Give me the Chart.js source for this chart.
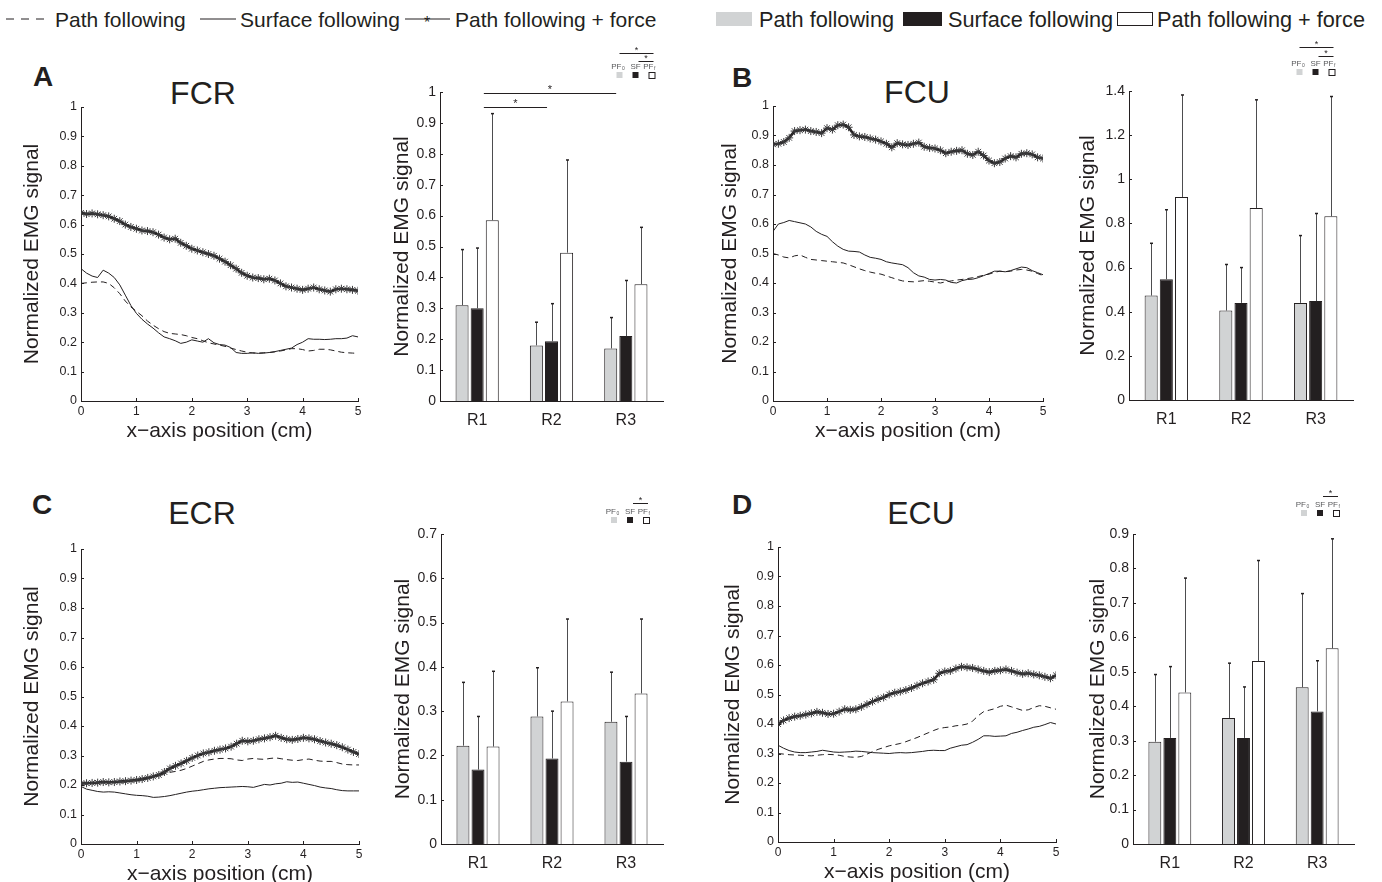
<!DOCTYPE html>
<html>
<head>
<meta charset="utf-8">
<script src="https://cdn.jsdelivr.net/npm/chart.js@4.4.1/dist/chart.umd.min.js"></script>
<style>
  body { margin: 0; background: #fff; }
  #fig { position: relative; width: 1382px; height: 882px; overflow: hidden;
         font-family: 'Liberation Sans', Arial, Helvetica, sans-serif; color: #231f20; }
  .box { position: absolute; }
  .txt { position: absolute; white-space: nowrap; line-height: 1; }
  .title { font-size: 32px; transform: translateX(-50%); }
  .letter { font-size: 28px; font-weight: bold; }
  .leg { font-size: 21px; }
  .legR { font-size: 21.7px; }
  svg { position: absolute; left: 0; top: 0; }
</style>
</head>
<body>
<div id="fig">
  <svg width="1382" height="40">
    <line x1="6" y1="19" x2="48" y2="19" stroke="#231f20" stroke-width="1" stroke-dasharray="8,7"/>
    <line x1="200" y1="19" x2="236" y2="19" stroke="#231f20" stroke-width="1"/>
    <line x1="405" y1="19" x2="450" y2="19" stroke="#231f20" stroke-width="1.2"/>
    <text x="427" y="28" font-size="16" text-anchor="middle" fill="#231f20" font-family="Liberation Sans, Arial">*</text>
    <rect x="716" y="12" width="36" height="14" fill="#d1d3d4"/>
    <rect x="903" y="12" width="39" height="14" fill="#231f20"/>
    <rect x="1117.5" y="12.5" width="35" height="13" fill="#fff" stroke="#231f20" stroke-width="1"/>
  </svg>
  <div class="txt leg" style="left:55px;top:9px">Path following</div>
  <div class="txt leg" style="left:240px;top:9px">Surface following</div>
  <div class="txt leg" style="left:455px;top:9px">Path following + force</div>
  <div class="txt legR" style="left:759px;top:9px">Path following</div>
  <div class="txt legR" style="left:948px;top:9px">Surface following</div>
  <div class="txt legR" style="left:1157px;top:9px">Path following + force</div>

  <div class="txt letter" style="left:33px;top:63px">A</div>
  <div class="txt letter" style="left:732px;top:64px">B</div>
  <div class="txt letter" style="left:32px;top:491px">C</div>
  <div class="txt letter" style="left:732px;top:491px">D</div>
  <div class="txt title" style="left:203px;top:77px">FCR</div>
  <div class="txt title" style="left:917px;top:76px">FCU</div>
  <div class="txt title" style="left:202px;top:497px">ECR</div>
  <div class="txt title" style="left:921px;top:497px">ECU</div>
</div>
<script>
// x positions along the surface (cm)
const xPos = [0,0.1,0.2,0.3,0.4,0.5,0.6,0.7,0.8,0.9,1,1.1,1.2,1.3,1.4,1.5,1.6,1.7,1.8,1.9,2,
  2.1,2.2,2.3,2.4,2.5,2.6,2.7,2.8,2.9,3,3.1,3.2,3.3,3.4,3.5,3.6,3.7,3.8,3.9,4,
  4.1,4.2,4.3,4.4,4.5,4.6,4.7,4.8,4.9,5];

// FCR
const fcrForce = [0.640,0.636,0.638,0.635,0.632,0.628,0.620,0.612,0.600,0.592,0.586,0.580,0.578,0.574,0.566,0.556,0.550,0.552,0.538,0.528,0.518,
  0.512,0.506,0.500,0.494,0.484,0.474,0.462,0.450,0.436,0.426,0.420,0.418,0.414,0.416,0.410,0.400,0.390,0.386,0.382,0.378,
  0.382,0.386,0.380,0.376,0.372,0.380,0.382,0.380,0.378,0.375];
const fcrSurface = [0.450,0.435,0.425,0.420,0.445,0.435,0.420,0.395,0.360,0.325,0.298,0.278,0.262,0.248,0.232,0.218,0.212,0.205,0.196,0.200,0.208,
  0.204,0.200,0.212,0.198,0.192,0.190,0.182,0.165,0.162,0.162,0.164,0.162,0.163,0.165,0.168,0.172,0.176,0.180,0.192,0.200,
  0.212,0.210,0.210,0.209,0.210,0.212,0.212,0.214,0.222,0.218];
const fcrPath = [0.400,0.402,0.404,0.405,0.405,0.400,0.385,0.365,0.340,0.320,0.305,0.290,0.272,0.258,0.246,0.236,0.230,0.228,0.226,0.222,0.216,
  0.212,0.205,0.198,0.194,0.190,0.186,0.180,0.175,0.170,0.166,0.163,0.163,0.164,0.165,0.167,0.170,0.174,0.178,0.178,0.175,
  0.170,0.172,0.176,0.176,0.174,0.170,0.166,0.164,0.163,0.162];

// FCU
const fcuForce = [0.870,0.872,0.878,0.892,0.915,0.918,0.920,0.915,0.912,0.908,0.925,0.920,0.935,0.937,0.928,0.902,0.897,0.895,0.890,0.886,0.880,
  0.872,0.860,0.874,0.870,0.868,0.872,0.876,0.862,0.858,0.856,0.850,0.840,0.845,0.848,0.850,0.838,0.834,0.845,0.832,0.815,
  0.806,0.810,0.822,0.830,0.826,0.838,0.840,0.836,0.826,0.822];
const fcuSurface = [0.575,0.600,0.605,0.612,0.608,0.604,0.600,0.590,0.575,0.565,0.558,0.540,0.525,0.514,0.508,0.507,0.505,0.495,0.487,0.484,0.480,
  0.472,0.468,0.465,0.462,0.452,0.435,0.424,0.420,0.412,0.410,0.412,0.410,0.402,0.400,0.408,0.412,0.413,0.418,0.425,0.432,
  0.440,0.440,0.438,0.442,0.448,0.454,0.452,0.442,0.435,0.428];
const fcuPath = [0.500,0.495,0.488,0.485,0.492,0.495,0.487,0.480,0.478,0.476,0.474,0.472,0.470,0.468,0.462,0.455,0.448,0.442,0.437,0.433,0.430,
  0.424,0.418,0.412,0.407,0.405,0.404,0.406,0.408,0.406,0.403,0.400,0.404,0.407,0.410,0.412,0.415,0.418,0.422,0.426,0.430,
  0.436,0.440,0.438,0.440,0.444,0.446,0.444,0.440,0.432,0.425];

// ECR
const ecrForce = [0.205,0.206,0.207,0.208,0.210,0.209,0.210,0.212,0.213,0.215,0.217,0.220,0.224,0.229,0.234,0.244,0.256,0.265,0.273,0.282,0.292,
  0.300,0.307,0.311,0.316,0.320,0.324,0.330,0.340,0.350,0.348,0.350,0.355,0.358,0.362,0.367,0.360,0.355,0.353,0.356,0.360,
  0.358,0.355,0.349,0.344,0.340,0.335,0.328,0.320,0.312,0.305];
const ecrSurface = [0.195,0.186,0.182,0.178,0.176,0.177,0.176,0.173,0.170,0.167,0.165,0.164,0.162,0.158,0.159,0.161,0.164,0.168,0.172,0.176,0.179,
  0.181,0.184,0.187,0.189,0.191,0.192,0.193,0.194,0.195,0.194,0.192,0.197,0.202,0.200,0.204,0.206,0.211,0.209,0.210,0.206,
  0.202,0.198,0.193,0.190,0.188,0.184,0.181,0.180,0.180,0.180];
const ecrPath = [0.203,0.205,0.206,0.207,0.208,0.208,0.209,0.210,0.211,0.213,0.215,0.218,0.222,0.227,0.232,0.238,0.243,0.246,0.250,0.256,0.264,
  0.272,0.280,0.285,0.288,0.290,0.290,0.289,0.285,0.283,0.288,0.290,0.288,0.287,0.290,0.292,0.289,0.286,0.284,0.283,0.286,
  0.288,0.284,0.281,0.280,0.280,0.276,0.271,0.269,0.268,0.268];

// ECU
const ecuForce = [0.400,0.412,0.420,0.425,0.428,0.432,0.436,0.441,0.438,0.434,0.435,0.442,0.450,0.448,0.450,0.458,0.467,0.476,0.484,0.490,0.500,
  0.506,0.510,0.515,0.522,0.530,0.538,0.544,0.550,0.572,0.578,0.580,0.588,0.594,0.592,0.590,0.585,0.580,0.576,0.580,0.582,
  0.585,0.580,0.574,0.570,0.572,0.568,0.565,0.560,0.555,0.565];
const ecuSurface = [0.328,0.318,0.310,0.305,0.303,0.303,0.305,0.307,0.311,0.308,0.305,0.304,0.305,0.306,0.308,0.307,0.305,0.303,0.302,0.301,0.300,
  0.302,0.303,0.302,0.303,0.305,0.307,0.310,0.311,0.310,0.310,0.318,0.323,0.328,0.330,0.338,0.348,0.360,0.360,0.358,0.359,
  0.360,0.368,0.372,0.378,0.383,0.389,0.392,0.398,0.405,0.400];
const ecuPath = [0.300,0.298,0.296,0.295,0.294,0.293,0.292,0.294,0.296,0.297,0.296,0.294,0.290,0.288,0.287,0.290,0.298,0.306,0.314,0.320,0.326,
  0.330,0.334,0.340,0.347,0.354,0.362,0.370,0.378,0.385,0.388,0.390,0.394,0.396,0.400,0.410,0.428,0.442,0.447,0.452,0.460,
  0.464,0.458,0.452,0.446,0.448,0.456,0.462,0.460,0.455,0.450];

// bar charts: regions, means and top of the error bars
const regions = ['R1', 'R2', 'R3'];
const fcrPF0 = [0.31, 0.18, 0.17],   fcrPF0Err = [0.49, 0.255, 0.27];
const fcrSF  = [0.30, 0.193, 0.21],  fcrSFErr  = [0.495, 0.315, 0.39];
const fcrPFf = [0.585, 0.48, 0.378], fcrPFfErr = [0.93, 0.78, 0.562];
const fcuPF0 = [0.473, 0.405, 0.44], fcuPF0Err = [0.71, 0.614, 0.745];
const fcuSF  = [0.547, 0.44, 0.448], fcuSFErr  = [0.862, 0.60, 0.845];
const fcuPFf = [0.92, 0.87, 0.832],  fcuPFfErr = [1.382, 1.36, 1.375];
const ecrPF0 = [0.222, 0.288, 0.276], ecrPF0Err = [0.365, 0.398, 0.388];
const ecrSF  = [0.168, 0.193, 0.186], ecrSFErr  = [0.288, 0.30, 0.288];
const ecrPFf = [0.22, 0.322, 0.34],   ecrPFfErr = [0.39, 0.508, 0.508];
const ecuPF0 = [0.297, 0.366, 0.455], ecuPF0Err = [0.492, 0.525, 0.727];
const ecuSF  = [0.308, 0.308, 0.385], ecuSFErr  = [0.515, 0.456, 0.532];
const ecuPFf = [0.44, 0.531, 0.568],  ecuPFfErr = [0.772, 0.823, 0.886];

const INK = '#231f20';
const FONT = "'Liberation Sans', Arial, sans-serif";
const fig = document.getElementById('fig');

function fmt(v) { return String(parseFloat(v.toFixed(2))); }

function addCanvas(left, top, w, h) {
  const d = document.createElement('div');
  d.className = 'box';
  d.style.cssText = `left:${left}px;top:${top}px;width:${w}px;height:${h}px`;
  const c = document.createElement('canvas');
  d.appendChild(c);
  fig.appendChild(d);
  return c;
}

// small inward ticks, MATLAB style
const inTicks = {
  id: 'inTicks',
  afterDraw(chart, args, opts) {
    const ctx = chart.ctx, ca = chart.chartArea;
    ctx.save();
    ctx.strokeStyle = INK; ctx.lineWidth = 1;
    chart.scales.y.ticks.forEach(t => {
      const y = Math.round(chart.scales.y.getPixelForValue(t.value)) + 0.5;
      ctx.beginPath(); ctx.moveTo(ca.left, y); ctx.lineTo(ca.left + 3, y); ctx.stroke();
    });
    if (opts.x) {
      chart.scales.x.ticks.forEach(t => {
        const x = Math.round(chart.scales.x.getPixelForValue(t.value)) + 0.5;
        ctx.beginPath(); ctx.moveTo(x, ca.bottom); ctx.lineTo(x, ca.bottom - 3); ctx.stroke();
      });
    }
    ctx.restore();
  }
};

// error whiskers, significance bars and the small key
const barExtras = {
  id: 'barExtras',
  afterDatasetsDraw(chart, args, opts) {
    const ctx = chart.ctx, ca = chart.chartArea;
    const ys = chart.scales.y, xs = chart.scales.x;
    ctx.save();
    opts.errs.forEach((errTop, i) => {
      chart.getDatasetMeta(i).data.forEach((bar, j) => {
        const x = Math.round(bar.x) + 0.5;
        const yt = ys.getPixelForValue(errTop[j]);
        ctx.strokeStyle = '#4d4d4f'; ctx.lineWidth = 1;
        ctx.beginPath(); ctx.moveTo(x, bar.y); ctx.lineTo(x, yt); ctx.stroke();
        ctx.strokeStyle = INK; ctx.lineWidth = 1.5;
        ctx.beginPath(); ctx.moveTo(x - 1.5, yt); ctx.lineTo(x + 1.5, yt); ctx.stroke();
      });
    });
    // group comparisons
    ctx.strokeStyle = INK; ctx.lineWidth = 1; ctx.fillStyle = INK;
    ctx.font = '11px ' + FONT; ctx.textAlign = 'center';
    opts.sig.forEach(([a, b, v]) => {
      const x1 = xs.getPixelForValue(a), x2 = xs.getPixelForValue(b);
      const y = Math.round(ys.getPixelForValue(v)) + 0.5;
      ctx.beginPath(); ctx.moveTo(x1, y); ctx.lineTo(x2, y); ctx.stroke();
      ctx.fillText('*', (x1 + x2) / 2, y - 1);
    });
    // key
    const k = opts.key;
    const kx = [ca.right + k.dx, ca.right + k.dx + 16, ca.right + k.dx + 32];
    const ky = ca.top + k.dy;
    ctx.fillStyle = '#d1d3d4'; ctx.fillRect(kx[0] - 3, ky, 6, 6);
    ctx.fillStyle = INK; ctx.fillRect(kx[1] - 3, ky, 6, 6);
    ctx.strokeStyle = INK; ctx.lineWidth = 1; ctx.strokeRect(kx[2] - 3 + 0.5, ky + 0.5, 6, 6);
    ctx.fillStyle = '#58595b'; ctx.textBaseline = 'alphabetic';
    const ly = ky - 3;
    ctx.font = '8px ' + FONT; ctx.textAlign = 'right';
    ctx.fillText('PF', kx[0] + 2, ly);
    ctx.fillText('PF', kx[2] + 2, ly);
    ctx.textAlign = 'center';
    ctx.fillText('SF', kx[1], ly);
    ctx.font = '5px ' + FONT; ctx.textAlign = 'left';
    ctx.fillText('0', kx[0] + 2.5, ly + 1);
    ctx.fillText('f', kx[2] + 2.5, ly + 1);
    ctx.strokeStyle = INK; ctx.fillStyle = INK;
    ctx.font = '9px ' + FONT; ctx.textAlign = 'center';
    k.lines.forEach(([a, b, up]) => {
      const x1 = kx[a] + (a === 1 ? 3 : 0), x2 = kx[b] + 2;
      const y = Math.round(ky - up) + 0.5;
      ctx.beginPath(); ctx.moveTo(x1, y); ctx.lineTo(x2, y); ctx.stroke();
      ctx.fillText('*', (x1 + x2) / 2, y - 0.5);
    });
    ctx.restore();
  }
};

function lineChart(g, force, surface, path) {
  const yw = 70, padT = 12, padR = 14, xh = 48;
  const c = addCanvas(g.l - yw, g.t - padT, g.r - g.l + yw + padR, g.b - g.t + padT + xh);
  const pts = ys => xPos.map((x, i) => ({ x: x, y: ys[i] }));
  new Chart(c, {
    type: 'line',
    data: {
      datasets: [
        { data: pts(force), borderColor: INK, borderWidth: 2.6, pointStyle: 'star', pointRadius: 4,
          pointBorderColor: '#3a3a3c', pointBorderWidth: 1, pointBackgroundColor: INK },
        { data: pts(surface), borderColor: INK, borderWidth: 1, pointRadius: 0 },
        { data: pts(path), borderColor: INK, borderWidth: 1, borderDash: [6, 4], pointRadius: 0 }
      ]
    },
    options: {
      animation: false, responsive: true, maintainAspectRatio: false,
      layout: { padding: { top: padT, right: padR, left: 0, bottom: 0 } },
      plugins: { legend: { display: false }, tooltip: { enabled: false }, inTicks: { x: true } },
      scales: {
        x: {
          type: 'linear', min: 0, max: 5,
          grid: { display: false, drawTicks: false }, border: { color: INK, width: 1 },
          ticks: { stepSize: 1, color: INK, font: { size: 12, family: FONT }, padding: 3, maxRotation: 0 },
          title: { display: true, text: 'x\u2212axis position (cm)', color: INK,
                   font: { size: 21, family: FONT }, padding: { top: 0, bottom: 5 } },
          afterFit: s => { s.height = xh; }
        },
        y: {
          min: 0, max: 1,
          grid: { display: false, drawTicks: false }, border: { color: INK, width: 1 },
          ticks: { stepSize: 0.1, color: INK, font: { size: 12.5, family: FONT }, padding: 4, callback: fmt },
          title: { display: true, text: 'Normalized EMG signal', color: INK,
                   font: { size: 21, family: FONT }, padding: { top: g.ycx - (g.l - yw) - 12.6, bottom: 0 } },
          afterFit: s => { s.width = yw; }
        }
      }
    },
    plugins: [inTicks]
  });
}

function barChart(g, means, errs, sig, key) {
  const yw = 60, padT = 56, padR = 12, xh = 34;
  const c = addCanvas(g.l - yw, g.t - padT, g.r - g.l + yw + padR, g.b - g.t + padT + xh);
  const fills = ['#d1d3d4', INK, '#ffffff'];
  new Chart(c, {
    type: 'bar',
    data: {
      labels: regions,
      datasets: means.map((m, i) => ({
        data: m, backgroundColor: fills[i], borderColor: INK, borderWidth: 1,
        barPercentage: 0.86, categoryPercentage: 0.61
      }))
    },
    options: {
      animation: false, responsive: true, maintainAspectRatio: false,
      layout: { padding: { top: padT, right: padR, left: 0, bottom: 0 } },
      plugins: { legend: { display: false }, tooltip: { enabled: false }, inTicks: { x: false },
                 barExtras: { errs: errs, sig: sig, key: key } },
      scales: {
        x: {
          grid: { display: false, drawTicks: false }, border: { color: INK, width: 1 },
          ticks: { color: INK, font: { size: 16, family: FONT }, padding: 10 },
          afterFit: s => { s.height = xh; }
        },
        y: {
          min: 0, max: g.ymax,
          grid: { display: false, drawTicks: false }, border: { color: INK, width: 1 },
          ticks: { stepSize: g.step, color: INK, font: { size: 14, family: FONT }, padding: 4, callback: fmt },
          title: { display: true, text: 'Normalized EMG signal', color: INK,
                   font: { size: 21, family: FONT }, padding: { top: g.ycx - (g.l - yw) - 12.6, bottom: 0 } },
          afterFit: s => { s.width = yw; }
        }
      }
    },
    plugins: [inTicks, barExtras]
  });
}

lineChart({ l: 81, r: 358, t: 107, b: 401, ycx: 32 }, fcrForce, fcrSurface, fcrPath);
lineChart({ l: 773, r: 1043, t: 106, b: 401, ycx: 730 }, fcuForce, fcuSurface, fcuPath);
lineChart({ l: 81, r: 359, t: 549, b: 844, ycx: 32 }, ecrForce, ecrSurface, ecrPath);
lineChart({ l: 778, r: 1056, t: 547, b: 842, ycx: 733 }, ecuForce, ecuSurface, ecuPath);

barChart({ l: 440, r: 663, t: 92, b: 401, ycx: 402, ymax: 1, step: 0.1 },
  [fcrPF0, fcrSF, fcrPFf], [fcrPF0Err, fcrSFErr, fcrPFfErr],
  [[0.09, 0.94, 0.95], [0.09, 1.87, 0.997]],
  { dx: -43.5, dy: -20, lines: [[0, 2, 19], [1, 2, 11]] });
barChart({ l: 1129, r: 1353, t: 91, b: 400, ycx: 1088, ymax: 1.4, step: 0.2 },
  [fcuPF0, fcuSF, fcuPFf], [fcuPF0Err, fcuSFErr, fcuPFfErr], [],
  { dx: -53.5, dy: -22, lines: [[0, 2, 22], [1, 2, 13]] });
barChart({ l: 441, r: 663, t: 534, b: 844, ycx: 403, ymax: 0.7, step: 0.1 },
  [ecrPF0, ecrSF, ecrPFf], [ecrPF0Err, ecrSFErr, ecrPFfErr], [],
  { dx: -49, dy: -17, lines: [[1, 2, 14]] });
barChart({ l: 1133, r: 1354, t: 534, b: 844, ycx: 1098, ymax: 0.9, step: 0.1 },
  [ecuPF0, ecuSF, ecuPFf], [ecuPF0Err, ecuSFErr, ecuPFfErr], [],
  { dx: -50, dy: -24, lines: [[1, 2, 14]] });
</script>
</body>
</html>
